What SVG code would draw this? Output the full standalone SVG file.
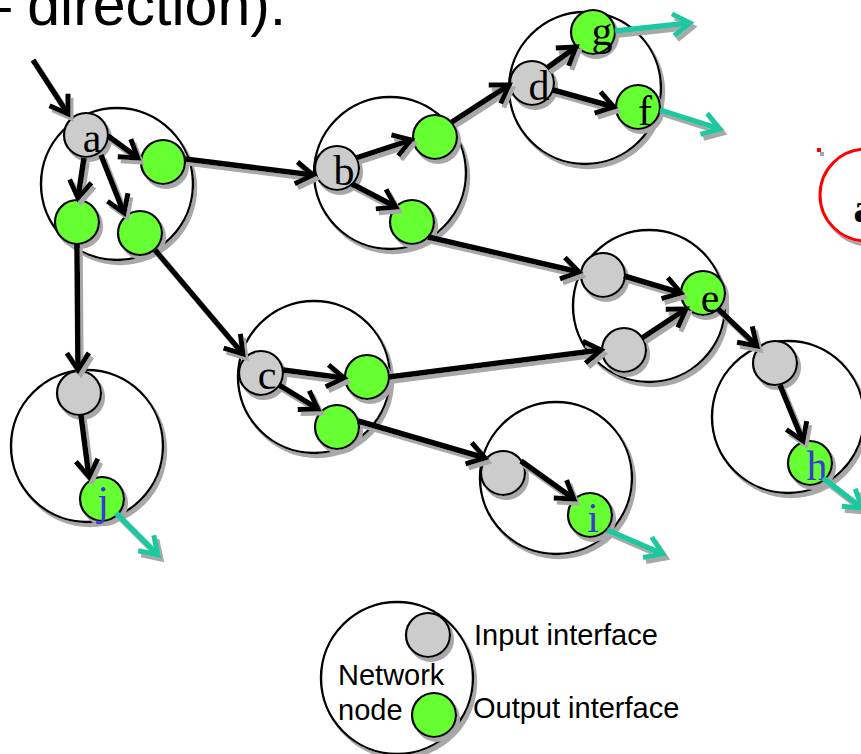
<svg xmlns="http://www.w3.org/2000/svg" width="861" height="754" viewBox="0 0 861 754">
<style>
.big{fill:#fff;stroke:#000;stroke-width:2.4;filter:url(#sh)}
.in{fill:#cccccc;stroke:#000;stroke-width:2.2;filter:url(#sh)}
.out{fill:#66ff33;stroke:#000;stroke-width:2.2;filter:url(#sh)}
.lbl{font-family:"Liberation Serif","Times New Roman",serif;font-size:42px;fill:#000;text-anchor:middle}
.blue{fill:#3a3ad6}
.leg{font-family:"Liberation Sans",Arial,sans-serif;font-size:29px;fill:#000}
.c line{stroke:#000;stroke-width:5.5;marker-end:url(#ah);filter:url(#sh)}
.c line.t{stroke:#1ec8a0;marker-end:url(#aht)}
</style>
<defs>
<filter id="sh" filterUnits="userSpaceOnUse" x="-10" y="-10" width="900" height="800">
<feOffset in="SourceAlpha" dx="3" dy="4" result="o"/>
<feFlood flood-color="#a8a8a8"/>
<feComposite in2="o" operator="in"/>
<feMerge><feMergeNode/><feMergeNode in="SourceGraphic"/></feMerge>
</filter>
<marker id="ah" markerUnits="userSpaceOnUse" markerWidth="40" markerHeight="40" viewBox="-20 -20 40 40" refX="0" refY="0" orient="auto" overflow="visible">
<path d="M-17,-11 L0,0 L-17,11" fill="none" stroke="#000" stroke-width="5"/>
</marker>
<marker id="aht" markerUnits="userSpaceOnUse" markerWidth="40" markerHeight="40" viewBox="-20 -20 40 40" refX="0" refY="0" orient="auto" overflow="visible">
<path d="M-17,-11 L0,0 L-17,11" fill="none" stroke="#1ec8a0" stroke-width="5"/>
</marker>
</defs>
<rect width="861" height="754" fill="#fff"/>
<text x="-22" y="25" font-family="Liberation Sans,Arial,sans-serif" font-size="59">– direction):</text>

<g id="nodeA">
<circle class="big" cx="117" cy="184" r="76"/>
<circle class="in" cx="86" cy="135" r="22"/>
<circle class="out" cx="163" cy="162" r="22"/>
<circle class="out" cx="77" cy="222" r="22"/>
<circle class="out" cx="140" cy="233" r="22"/>
<text class="lbl" x="92" y="152">a</text>
</g>
<g id="nodeB">
<circle class="big" cx="390" cy="173" r="76"/>
<circle class="in" cx="337" cy="168" r="22"/>
<circle class="out" cx="435" cy="137" r="22"/>
<circle class="out" cx="412" cy="222" r="22"/>
<text class="lbl" x="344" y="185">b</text>
</g>
<g id="nodeD">
<circle class="big" cx="585" cy="88" r="76"/>
<circle class="in" cx="532" cy="83" r="22"/>
<circle class="out" cx="593" cy="32" r="22"/>
<circle class="out" cx="638" cy="107" r="22"/>
<text class="lbl" x="539" y="100">d</text>
<text class="lbl" x="602" y="45">g</text>
<text class="lbl" x="645" y="125">f</text>
</g>
<g id="nodeE">
<circle class="big" cx="649" cy="306" r="76"/>
<circle class="in" cx="603" cy="275" r="22"/>
<circle class="in" cx="624" cy="350" r="22"/>
<circle class="out" cx="703" cy="293" r="22"/>
<text class="lbl" x="710" y="312">e</text>
</g>
<g id="nodeH">
<circle class="big" cx="788" cy="417" r="76"/>
<circle class="in" cx="775" cy="363" r="22"/>
<circle class="out" cx="810" cy="463" r="22"/>
<text class="lbl blue" x="817" y="480">h</text>
</g>
<g id="nodeC">
<circle class="big" cx="314" cy="377" r="76"/>
<circle class="in" cx="261" cy="373" r="22"/>
<circle class="out" cx="367" cy="377" r="22"/>
<circle class="out" cx="337" cy="427" r="22"/>
<text class="lbl" x="267" y="389">c</text>
</g>
<g id="nodeI">
<circle class="big" cx="556" cy="478" r="76"/>
<circle class="in" cx="503" cy="473" r="22"/>
<circle class="out" cx="590" cy="515" r="22"/>
<text class="lbl blue" x="593" y="532">i</text>
</g>
<g id="nodeJ">
<circle class="big" cx="87" cy="446" r="76"/>
<circle class="in" cx="79" cy="393" r="22"/>
<circle class="out" cx="102" cy="499" r="22"/>
<text class="lbl blue" x="103" y="515">j</text>
</g>
<g id="redNode">
<rect x="817" y="148" width="4" height="4" fill="#ff0000" filter="url(#sh)"/>
<circle cx="866" cy="195" r="46" fill="#fff" stroke="#ff0000" stroke-width="3" filter="url(#sh)"/>
<text class="lbl" x="864" y="222" font-weight="bold">a</text>
</g>

<g id="connectors" class="c">
<line x1="33" y1="60" x2="68" y2="114"/>
<line x1="108" y1="136" x2="138" y2="158"/>
<line x1="84" y1="158" x2="78" y2="198"/>
<line x1="101" y1="155" x2="124" y2="213"/>
<line x1="185" y1="159" x2="313" y2="175"/>
<line x1="356" y1="158" x2="411" y2="140"/>
<line x1="352" y1="184" x2="396" y2="207"/>
<line x1="452" y1="122" x2="509" y2="85"/>
<line x1="547" y1="68" x2="576" y2="47"/>
<line x1="553" y1="90" x2="614" y2="107"/>
<line x1="428" y1="237" x2="579" y2="272"/>
<line x1="155" y1="250" x2="243" y2="354"/>
<line x1="77" y1="244" x2="78" y2="370"/>
<line x1="283" y1="370" x2="344" y2="378"/>
<line x1="279" y1="385" x2="318" y2="409"/>
<line x1="389" y1="377" x2="601" y2="350"/>
<line x1="358" y1="421" x2="485" y2="458"/>
<line x1="521" y1="461" x2="574" y2="499"/>
<line x1="624" y1="276" x2="681" y2="293"/>
<line x1="642" y1="338" x2="686" y2="309"/>
<line x1="718" y1="309" x2="757" y2="346"/>
<line x1="780" y1="385" x2="803" y2="441"/>
<line x1="81" y1="415" x2="89" y2="477"/>
<line class="t" x1="615" y1="31" x2="690" y2="23"/>
<line class="t" x1="660" y1="110" x2="720" y2="129"/>
<line class="t" x1="607" y1="530" x2="663" y2="554"/>
<line class="t" x1="823" y1="478" x2="862" y2="508"/>
<line class="t" x1="116" y1="513" x2="158" y2="555"/>
</g>

<g id="legend">
<circle class="big" cx="397" cy="678" r="76"/>
<circle class="in" cx="428" cy="635" r="22"/>
<circle class="out" cx="434" cy="715" r="22"/>
<text class="leg" x="474" y="645">Input interface</text>
<text class="leg" x="473" y="718">Output interface</text>
<text class="leg" x="338" y="685">Network</text>
<text class="leg" x="338" y="720">node</text>
</g>
</svg>
